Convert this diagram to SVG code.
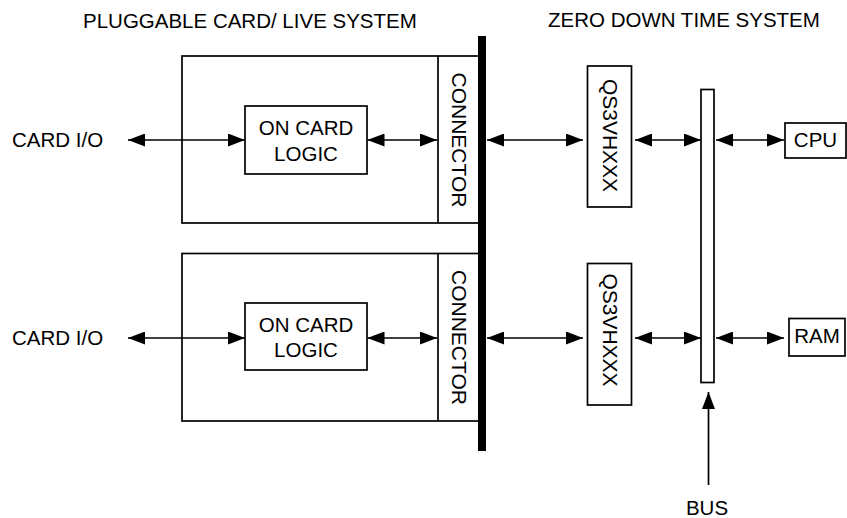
<svg xmlns="http://www.w3.org/2000/svg" width="847" height="518" viewBox="0 0 847 518">
<style>
  text { font-family: "Liberation Sans", Arial, sans-serif; font-size: 20.5px; fill: #000; }
  .v { font-size: 21px; }
  .box { fill: #fff; stroke: #000; stroke-width: 1.7; }
  .ln { fill: none; stroke: #000; stroke-width: 1.7; }
  .conn line { stroke: #000; stroke-width: 1.7; }
</style>
<defs>
  <marker id="ah" viewBox="0 0 17 13" refX="17" refY="6.5" markerWidth="17" markerHeight="13" markerUnits="userSpaceOnUse" orient="auto-start-reverse">
    <path d="M0,0 L17,6.5 L0,13 z" fill="#000"/>
  </marker>
</defs>
<rect width="847" height="518" fill="#fff"/>

<g id="titles">
  <text x="83" y="28">PLUGGABLE CARD/ LIVE SYSTEM</text>
  <text x="548" y="27">ZERO DOWN TIME SYSTEM</text>
</g>

<g id="card1">
  <rect class="box" x="182" y="56" width="300" height="167"/>
  <line class="ln" x1="438" y1="56" x2="438" y2="223"/>
</g>
<g id="connector1">
  <text class="v" transform="translate(459,140) rotate(90)" x="0" y="7.5" text-anchor="middle">CONNECTOR</text>
</g>
<g id="logic1">
  <rect class="box" x="245" y="106" width="122" height="68"/>
  <text x="306" y="134.5" text-anchor="middle">ON CARD</text>
  <text x="306" y="160.5" text-anchor="middle">LOGIC</text>
</g>

<g id="card2">
  <rect class="box" x="182" y="253.5" width="300" height="167.5"/>
  <line class="ln" x1="438" y1="253.5" x2="438" y2="421"/>
</g>
<g id="connector2">
  <text class="v" transform="translate(459,337.5) rotate(90)" x="0" y="7.5" text-anchor="middle">CONNECTOR</text>
</g>
<g id="logic2">
  <rect class="box" x="245" y="303" width="122" height="67"/>
  <text x="306" y="331.5" text-anchor="middle">ON CARD</text>
  <text x="306" y="357" text-anchor="middle">LOGIC</text>
</g>

<g id="backplane">
  <rect x="478" y="36" width="8" height="415" fill="#000"/>
</g>

<g id="qs1">
  <rect class="box" x="587.5" y="66" width="44" height="141"/>
  <text class="v" transform="translate(610,135.5) rotate(90)" x="0" y="7.5" text-anchor="middle">QS3VHXXX</text>
</g>
<g id="qs2">
  <rect class="box" x="587.5" y="263.5" width="44" height="141.5"/>
  <text class="v" transform="translate(610,330) rotate(90)" x="0" y="7.5" text-anchor="middle">QS3VHXXX</text>
</g>

<g id="bus">
  <rect class="box" x="701" y="89.5" width="13" height="293"/>
</g>

<g id="cpu">
  <rect class="box" x="785" y="123" width="61" height="35"/>
  <text x="815.5" y="147" text-anchor="middle">CPU</text>
</g>
<g id="ram">
  <rect class="box" x="789" y="318.5" width="56" height="37.5"/>
  <text x="817" y="343" text-anchor="middle">RAM</text>
</g>

<g id="labels">
  <text x="12" y="147">CARD I/O</text>
  <text x="12" y="345">CARD I/O</text>
  <text x="707" y="515" text-anchor="middle">BUS</text>
</g>

<g id="connectors" class="conn">
  <line x1="128" y1="140" x2="245" y2="140" marker-start="url(#ah)" marker-end="url(#ah)"/>
  <line x1="367.5" y1="140" x2="437" y2="140" marker-start="url(#ah)" marker-end="url(#ah)"/>
  <line x1="487" y1="140" x2="583" y2="140" marker-start="url(#ah)" marker-end="url(#ah)"/>
  <line x1="635" y1="140" x2="701" y2="140" marker-start="url(#ah)" marker-end="url(#ah)"/>
  <line x1="716" y1="140" x2="784" y2="140" marker-start="url(#ah)" marker-end="url(#ah)"/>

  <line x1="128" y1="338" x2="245" y2="338" marker-start="url(#ah)" marker-end="url(#ah)"/>
  <line x1="367.5" y1="338" x2="437" y2="338" marker-start="url(#ah)" marker-end="url(#ah)"/>
  <line x1="487" y1="338" x2="583" y2="338" marker-start="url(#ah)" marker-end="url(#ah)"/>
  <line x1="635" y1="338" x2="701" y2="338" marker-start="url(#ah)" marker-end="url(#ah)"/>
  <line x1="716" y1="338" x2="784" y2="338" marker-start="url(#ah)" marker-end="url(#ah)"/>

  <line x1="708.5" y1="485" x2="708.5" y2="392" marker-end="url(#ah)"/>
</g>
</svg>
